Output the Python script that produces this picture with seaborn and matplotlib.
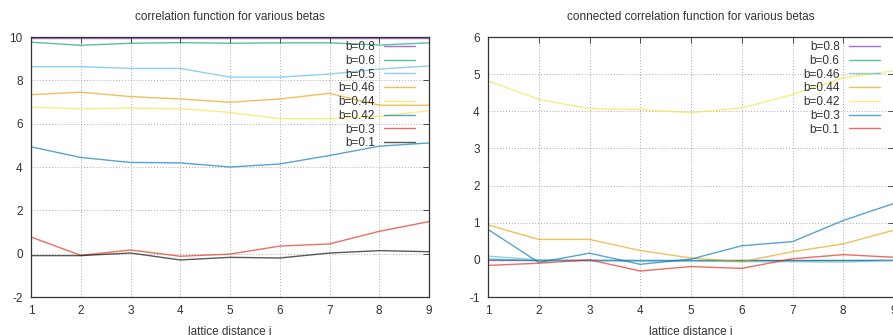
import matplotlib
matplotlib.use("Agg")
import matplotlib.pyplot as plt
import seaborn as sns
import pandas as pd

dist = [1, 2, 3, 4, 5, 6, 7, 8, 9]

# correlation function
corr_labels = ["b=0.8", "b=0.6", "b=0.5", "b=0.46", "b=0.44", "b=0.42", "b=0.3", "b=0.1"]
corr_b08 = [9.97, 9.97, 9.97, 9.97, 9.97, 9.97, 9.97, 9.97, 9.97]
corr_b06 = [9.76, 9.62, 9.71, 9.74, 9.71, 9.73, 9.73, 9.63, 9.73]
corr_b05 = [8.63, 8.63, 8.55, 8.55, 8.15, 8.15, 8.29, 8.52, 8.66]
corr_b046 = [7.34, 7.45, 7.25, 7.14, 6.99, 7.14, 7.40, 6.85, 6.85]
corr_b044 = [6.76, 6.69, 6.72, 6.69, 6.52, 6.23, 6.23, 6.34, 6.60]
corr_b042 = [4.93, 4.44, 4.21, 4.19, 4.00, 4.14, 4.53, 4.96, 5.11]
corr_b03 = [0.77, -0.08, 0.17, -0.12, -0.02, 0.35, 0.45, 1.03, 1.48]
corr_b01 = [-0.09, -0.09, 0.03, -0.29, -0.17, -0.20, 0.03, 0.14, 0.09]

# connected correlation function
conn_labels = ["b=0.8", "b=0.6", "b=0.46", "b=0.44", "b=0.42", "b=0.3", "b=0.1"]
conn_b08 = [0.0, 0.0, 0.0, 0.0, 0.0, 0.0, 0.0, 0.0, 0.0]
conn_b06 = [0.02, -0.02, -0.01, -0.02, -0.02, -0.02, -0.02, -0.02, -0.01]
conn_b046 = [0.10, 0.0, -0.03, -0.03, -0.03, -0.05, -0.05, -0.06, -0.02]
conn_b044 = [0.94, 0.55, 0.55, 0.25, 0.05, -0.05, 0.22, 0.43, 0.80]
conn_b042 = [4.82, 4.32, 4.07, 4.05, 3.96, 4.09, 4.45, 4.90, 5.09]
conn_b03 = [0.82, -0.07, 0.18, -0.12, 0.02, 0.38, 0.49, 1.06, 1.52]
conn_b01 = [-0.15, -0.09, 0.0, -0.30, -0.18, -0.23, 0.03, 0.14, 0.07]

gp_colors = ["#7a1fb0", "#009e73", "#56b4e9", "#e69f00", "#f0e442", "#0072b2", "#e51e10", "#000000"]

sns.set_style("white")
plt.rcParams["font.family"] = ["Liberation Sans", "DejaVu Sans"]
plt.rcParams["font.size"] = 8.5
plt.rcParams["text.color"] = "#333333"
plt.rcParams["axes.unicode_minus"] = False


def long_table(labels, series):
    rows = []
    for lab, vals in zip(labels, series):
        for x, y in zip(dist, vals):
            rows.append({"i": x, "value": y, "beta": lab})
    return pd.DataFrame(rows)


def style_axes(ax, ylim, yticks, title):
    ax.set_xlim(1, 9)
    ax.set_ylim(*ylim)
    ax.set_xticks(dist)
    ax.set_yticks(yticks)
    ax.grid(True, color="#aaaaaa", linestyle=(0, (1, 2)), linewidth=0.7)
    for s in ax.spines.values():
        s.set_color("#333333")
        s.set_linewidth(0.9)
    ax.tick_params(direction="in", length=4, width=0.6, top=True, right=True,
                   colors="#333333", labelsize=8.5, pad=6)
    ax.set_title(title, fontsize=8.5, color="#333333", pad=12)
    ax.set_xlabel("lattice distance i", fontsize=8.5, color="#333333", labelpad=6)
    ax.set_ylabel("")


def right_legend(ax):
    # markerfirst=False puts the label before the sample and right-aligns the rows
    ax.legend(loc="upper right", bbox_to_anchor=(1 - 14 / 398, 1 - 4 / 260),
              borderaxespad=0, borderpad=0, frameon=False, markerfirst=False,
              handlelength=2.6, handletextpad=0.8, labelspacing=0.15,
              fontsize=8.5)


fig = plt.figure(figsize=(8.93, 3.35), dpi=100)
ax1 = fig.add_axes([31 / 893, 38 / 335, 398 / 893, 260 / 335])
ax2 = fig.add_axes([488 / 893, 38 / 335, 406 / 893, 260 / 335])

df1 = long_table(corr_labels, [corr_b08, corr_b06, corr_b05, corr_b046,
                               corr_b044, corr_b042, corr_b03, corr_b01])
sns.lineplot(data=df1, x="i", y="value", hue="beta", palette=gp_colors,
             linewidth=1.0, alpha=0.65, ax=ax1)
style_axes(ax1, (-2, 10), [-2, 0, 2, 4, 6, 8, 10], "correlation function for various betas")

df2 = long_table(conn_labels, [conn_b08, conn_b06, conn_b046, conn_b044,
                               conn_b042, conn_b03, conn_b01])
pal2 = ["#7a1fb0", "#009e73", "#56b4e9", "#e69f00", "#f0e442", "#0072b2", "#e51e10"]
sns.lineplot(data=df2, x="i", y="value", hue="beta", palette=pal2,
             linewidth=1.0, alpha=0.65, ax=ax2)
style_axes(ax2, (-1, 6), [-1, 0, 1, 2, 3, 4, 5, 6], "connected correlation function for various betas")

right_legend(ax1)
right_legend(ax2)

fig.savefig("out.png", dpi=100)
